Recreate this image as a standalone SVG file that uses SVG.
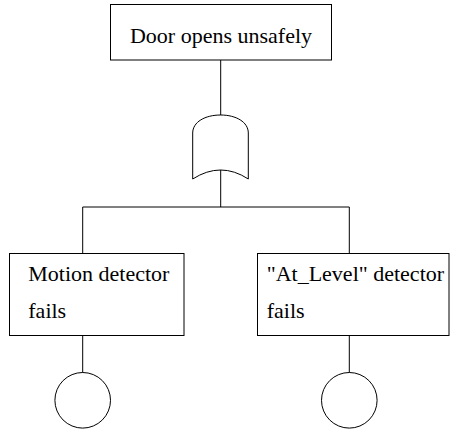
<svg xmlns="http://www.w3.org/2000/svg" width="452" height="430" viewBox="0 0 452 430">
<rect width="452" height="430" fill="#fff"/>
<g id="connectors" fill="none" stroke="#000" stroke-width="1">
<path d="M220.7,60 V115"/>
<path d="M220.7,170 V207"/>
<path d="M82.7,207 H349.3"/>
<path d="M82.7,207 V253.5"/>
<path d="M349.3,207 V253.5"/>
<path d="M82.7,335.5 V372.5"/>
<path d="M349.3,335.5 V372.5"/>
</g>
<g id="top-event">
<rect x="110.5" y="4.5" width="221" height="55.5" fill="#fff" stroke="#000"/>
<text style="font-family:'Liberation Serif',serif;font-size:22px" x="221" y="43" text-anchor="middle">Door opens unsafely</text>
</g>
<g id="or-gate">
<path d="M192.7,179 V133 C192.7,122 205,115 220.7,115 C236,115 248.3,122 248.3,133 V179 Q220.7,161 192.7,179 Z" fill="none" stroke="#000"/>
</g>
<g id="motion-detector">
<rect x="9.5" y="253.5" width="174.5" height="82" fill="#fff" stroke="#000"/>
<text style="font-family:'Liberation Serif',serif;font-size:22px" x="28.3" y="281">Motion detector</text>
<text style="font-family:'Liberation Serif',serif;font-size:22px" x="28.3" y="317.5">fails</text>
</g>
<g id="at-level-detector">
<rect x="257.5" y="253.5" width="191.5" height="82" fill="#fff" stroke="#000"/>
<text style="font-family:'Liberation Serif',serif;font-size:22px" x="266.7" y="281">"At_Level" detector</text>
<text style="font-family:'Liberation Serif',serif;font-size:22px" x="266.7" y="317.5">fails</text>
</g>
<g id="basic-event-1">
<circle cx="82.7" cy="400.3" r="27.8" fill="none" stroke="#000"/>
</g>
<g id="basic-event-2">
<circle cx="349.3" cy="400.3" r="27.8" fill="none" stroke="#000"/>
</g>
</svg>
